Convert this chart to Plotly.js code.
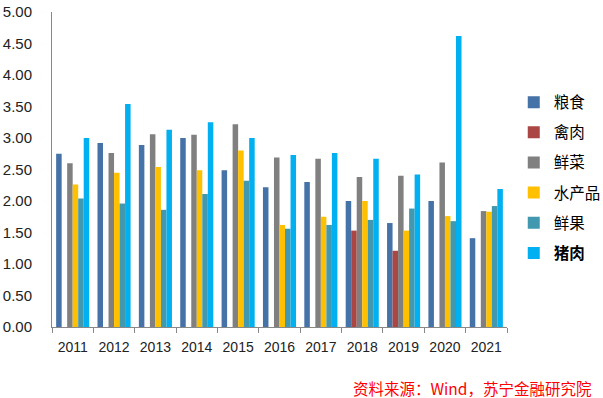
<!DOCTYPE html>
<html><head><meta charset="utf-8">
<script src="https://cdn.plot.ly/plotly-3.0.1.min.js"></script>
<style>html,body{margin:0;padding:0;background:#fff}#chart{width:603px;height:398px}</style>
</head><body><div id="chart"></div>
<script>
const years = ["2011","2012","2013","2014","2015","2016","2017","2018","2019","2020","2021"];
const grain   = [2.75,2.92,2.89,3.00,2.49,2.22,2.30,2.00,1.65,2.00,1.41];
const poultry = [null,null,null,null,null,null,null,1.53,1.21,null,null];
const veg     = [2.60,2.76,3.06,3.05,3.22,2.69,2.67,2.38,2.40,2.61,1.84];
const aquatic = [2.26,2.45,2.54,2.49,2.80,1.62,1.75,2.00,1.53,1.76,1.83];
const fruit   = [2.04,1.96,1.86,2.11,2.32,1.56,1.62,1.70,1.88,1.68,1.92];
const pork    = [3.00,3.54,3.13,3.25,3.00,2.73,2.76,2.67,2.42,4.62,2.19];
const names = ["粮食","禽肉","鲜菜","水产品","鲜果","<b>猪肉</b>"];
const series = [grain,poultry,veg,aquatic,fruit,pork];
const colors = ["#4572A7","#AA4643","#808080","#FFC000","#4198AF","#00B0F0"];

const traces = series.map((s,i)=>({
  type:"bar", x:years, y:s, name:names[i], legendgroup:"g"+i,
  marker:{color:colors[i]}, hoverinfo:"none"
}));

const layout = {
  width:603, height:398,
  margin:{l:52,r:96,t:12,b:71, autoexpand:false},
  paper_bgcolor:"#fff", plot_bgcolor:"#fff",
  font:{family:"'Noto Sans CJK SC', 'DejaVu Sans', sans-serif", color:"#222"},
  barmode:"group", bargap:0.2, bargroupgap:0,
  showlegend:true,
  legend:{xref:"container", yref:"container", x:0.852, y:0.785, xanchor:"left", yanchor:"top",
          traceorder:"grouped", tracegroupgap:7, font:{size:15.5, color:"#000"}, itemwidth:30},
  xaxis:{type:"category", showline:true, linecolor:"#888", linewidth:1,
         ticks:"outside", tickson:"boundaries", ticklen:5, tickcolor:"#888",
         ticklabelstandoff:7,
         tickfont:{size:14, family:"'Liberation Sans', Arial, sans-serif", color:"#222"},
         showgrid:false, zeroline:false},
  yaxis:{range:[0,5], dtick:0.5, tickformat:".2f", showline:true, linecolor:"#888",
         linewidth:1, ticks:"", showgrid:false, zeroline:false, ticklabelstandoff:16,
         tickfont:{size:15, family:"'Liberation Sans', Arial, sans-serif", color:"#222"}},
  annotations:[{text:"资料来源：Wind，苏宁金融研究院", xref:"paper", yref:"paper",
    x:1.19, y:-0.194, xanchor:"right", yanchor:"middle", showarrow:false,
    font:{size:15.5, color:"#FF0000", family:"'Noto Sans CJK SC', sans-serif"}}]
};
Plotly.newPlot("chart", traces, layout, {displayModeBar:false, staticPlot:true});
</script></body></html>
